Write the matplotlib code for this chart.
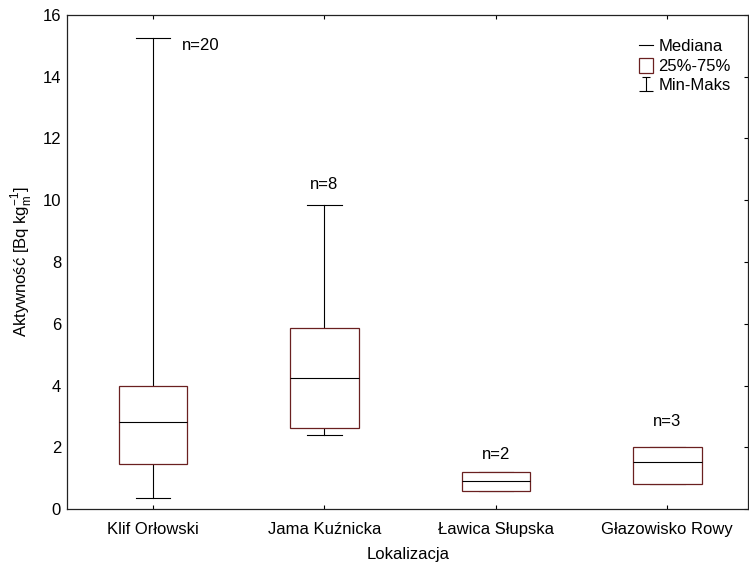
import matplotlib
matplotlib.use('Agg')
from matplotlib import pyplot as plt
from matplotlib.lines import Line2D
from matplotlib.patches import Patch
from matplotlib.path import Path

plt.rcParams['font.family'] = ['Liberation Sans', 'DejaVu Sans']
plt.rcParams['font.size'] = 12

# values
sites = ['Klif Orłowski', 'Jama Kuźnicka', 'Ławica Słupska', 'Głazowisko Rowy']
mins = [0.36, 2.39, 0.59, 0.80]
q1 = [1.46, 2.62, 0.59, 0.80]
medians = [2.81, 4.23, 0.91, 1.51]
q3 = [3.97, 5.87, 1.19, 2.00]
maxs = [15.27, 9.85, 1.19, 2.00]
n_counts = [20, 8, 2, 3]
n_label_x = [1.28, 2, 3, 4]
n_label_y = [15.0, 10.5, 1.75, 2.83]

box_col = '#6a2020'

figure = plt.figure(figsize=(7.49, 5.63), dpi=100)
ax = figure.add_axes([0.0899, 0.0959, 0.9087, 0.8775])

stats = []
for i in range(len(sites)):
    stats.append(dict(label=sites[i], whislo=mins[i], q1=q1[i], med=medians[i],
                      q3=q3[i], whishi=maxs[i], fliers=[]))

# boxes above the whisker caps so that the red edge stays visible
ax.bxp(stats, positions=range(1, len(sites) + 1), widths=0.4, capwidths=0.2,
       showfliers=False, patch_artist=True,
       boxprops=dict(facecolor='white', edgecolor=box_col, linewidth=0.9, zorder=3),
       medianprops=dict(color='black', linewidth=0.8, zorder=4),
       whiskerprops=dict(color='black', linewidth=0.8),
       capprops=dict(color='black', linewidth=0.8))

for x, y, n in zip(n_label_x, n_label_y, n_counts):
    ax.text(x, y, 'n=%d' % n, ha='center', va='center', fontsize=12)

ax.set_xlim(0.5, 4.47)
ax.set_ylim(0, 16)
ax.set_yticks(range(0, 17, 2))
ax.set_xticks(range(1, len(sites) + 1))
ax.set_xticklabels(sites)

ax.tick_params(axis='x', direction='in', top=True, length=3, width=0.8, pad=9.5)
ax.tick_params(axis='y', direction='in', left=False, right=True, length=3, width=0.8, pad=4.5)
for s in ax.spines.values():
    s.set_linewidth(0.9)
    s.set_color('#222222')

ax.set_xlabel('Lokalizacja', labelpad=7)
ax.set_ylabel(r'Aktywność [Bq kg$_\mathregular{m}^\mathregular{-1}$]', labelpad=6)

# legend symbol for min-max: I shape, wider at the bottom
ibar = Path([(-0.5, 1), (0.5, 1), (0, 1), (0, -1), (-0.9, -1), (0.9, -1)],
            [Path.MOVETO, Path.LINETO, Path.MOVETO, Path.LINETO, Path.MOVETO, Path.LINETO])
handles = [Line2D([], [], color='black', linewidth=0.8),
           Patch(facecolor='white', edgecolor=box_col, linewidth=0.9),
           Line2D([], [], color='black', linestyle='none', marker=ibar,
                  markersize=10.5, markeredgewidth=0.8)]
ax.legend(handles, ['Mediana', '25%-75%', 'Min-Maks'], loc='upper left',
          bbox_to_anchor=(0.84, 0.953), frameon=False, borderpad=0,
          borderaxespad=0, handlelength=0.85, handleheight=1.0,
          handletextpad=0.3, labelspacing=0.2, fontsize=12)

figure.savefig('out.png', dpi=100)
